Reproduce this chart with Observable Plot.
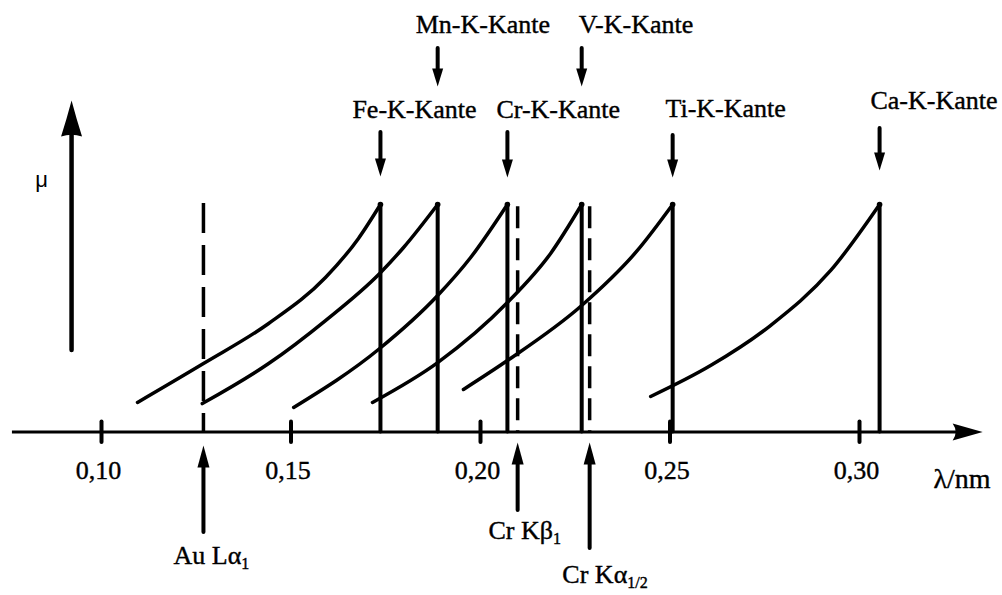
<!DOCTYPE html>
<html>
<head>
<meta charset="utf-8">
<script src="https://cdn.jsdelivr.net/npm/d3@7"></script>
<script src="https://cdn.jsdelivr.net/npm/@observablehq/plot@0.6"></script>
<style>
html, body { margin: 0; padding: 0; background: #fff; }
#chart svg { display: block; }
</style>
</head>
<body>
<div id="chart"></div>
<script>
// ---------------- data ----------------
const edgeNames  = ["Fe", "Mn", "Cr", "V", "Ti", "Ca"];
const edgeLabels = ["Fe-K-Kante", "Mn-K-Kante", "Cr-K-Kante", "V-K-Kante", "Ti-K-Kante", "Ca-K-Kante"];
const edgeLambda = [0.1736, 0.1887, 0.2071, 0.2267, 0.2507, 0.3053];
const edgeMuMax  = [10, 10, 10, 10, 10, 10];

// absorption curves below each edge (λ in nm, μ in arbitrary units)
const feLambda = [0.1095, 0.1269, 0.1441, 0.1591, 0.1678, 0.1736];
const feMu     = [1.30, 3.01, 4.77, 6.79, 8.51, 10.0];
const mnLambda = [0.1266, 0.1441, 0.1591, 0.1734, 0.1797, 0.1887];
const mnMu     = [1.25, 3.01, 4.90, 6.97, 8.11, 10.0];
const crLambda = [0.1507, 0.1734, 0.1887, 0.1974, 0.2071];
const crMu     = [1.08, 3.67, 6.00, 7.67, 10.0];
const vLambda  = [0.1715, 0.1887, 0.2071, 0.2185, 0.2267];
const vMu      = [1.30, 3.05, 5.69, 7.85, 10.0];
const tiLambda = [0.1955, 0.2071, 0.2267, 0.2414, 0.2507];
const tiMu     = [1.87, 3.14, 5.56, 7.98, 10.0];
const caLambda = [0.2449, 0.2607, 0.2765, 0.2924, 0.3053];
const caMu     = [1.56, 2.92, 4.68, 7.10, 10.0];

// emission lines (dashed)
const emissionLabels = ["Au Lα1", "Cr Kβ1", "Cr Kα1/2"];
const emissionLambda = [0.1269, 0.2098, 0.2288];
const emissionMuTop  = [10.04, 9.9, 9.9];

// axis ticks
const tickValues = [0.10, 0.15, 0.20, 0.25, 0.30];
const tickLabels = ["0,10", "0,15", "0,20", "0,25", "0,30"];
const xAxisLabel = "λ/nm";
const yAxisLabel = "μ";

// ---------------- layout (annotation placement, in data units) ----------------
const edgeLabelLeft = [0.1662, 0.1829, 0.2042, 0.2259, 0.2488, 0.3029];
const edgeLabelMu   = [14.19, 17.9, 14.19, 17.9, 14.2, 14.58];
const edgeArrowTop  = [13.16, 16.86, 13.16, 16.86, 13.03, 13.34];
const edgeArrowTip  = [11.23, 15.19, 11.19, 15.19, 11.19, 11.49];

const emArrowTip    = [-0.59, -0.46, -0.46];
const emArrowBottom = [-4.42, -3.45, -5.12];
const emLabelLeft   = [0.1190, 0.2021, 0.2216];
const emLabelMu     = [-5.42, -4.32, -6.29];

const axisStart = 0.0765, axisEnd = 0.3325;
const yArrowLambda = 0.0921, yArrowBottom = 3.58, yArrowTip = 14.57;

// ---------------- build rows ----------------
const curveSets = [[feLambda, feMu], [mnLambda, mnMu], [crLambda, crMu], [vLambda, vMu], [tiLambda, tiMu], [caLambda, caMu]];
const curveRows = curveSets.flatMap(([ls, ms], k) => ls.map((l, i) => ({el: edgeNames[k], lambda: l, mu: ms[i]})));
const edgeRows = edgeNames.map((n, i) => ({
  name: n, label: edgeLabels[i], lambda: edgeLambda[i], muMax: edgeMuMax[i],
  labelX: edgeLabelLeft[i], labelY: edgeLabelMu[i], aTop: edgeArrowTop[i], aTip: edgeArrowTip[i]
}));
const emRows = emissionLabels.map((n, i) => ({
  label: n, lambda: emissionLambda[i], top: emissionMuTop[i],
  tip: emArrowTip[i], bottom: emArrowBottom[i], labelX: emLabelLeft[i], labelY: emLabelMu[i]
}));

// arrow head symbols (tip at origin)
const headDown = (w, l) => ({draw(ctx) { ctx.moveTo(0, 0); ctx.lineTo(-w / 2, -l); ctx.lineTo(w / 2, -l); ctx.closePath(); }});
const headUp = (w, l) => ({draw(ctx) { ctx.moveTo(0, 0); ctx.lineTo(-w / 2, l); ctx.lineTo(w / 2, l); ctx.closePath(); }});
const headRight = (w, l) => ({draw(ctx) { ctx.moveTo(0, 0); ctx.lineTo(-l, -w / 2); ctx.quadraticCurveTo(-l * 0.8, 0, -l, w / 2); ctx.closePath(); }});
const headBullet = (w, l) => ({draw(ctx) {
  ctx.moveTo(0, 0);
  ctx.quadraticCurveTo(-w * 0.25, l * 0.55, -w / 2, l);
  ctx.quadraticCurveTo(0, l * 0.9, w / 2, l);
  ctx.quadraticCurveTo(w * 0.25, l * 0.55, 0, 0);
  ctx.closePath();
}});

const serif = "Liberation Serif, Times New Roman, serif";
const textInk = {fill: "black", stroke: "black", strokeWidth: 0.4};

const plot = Plot.plot({
  width: 1002,
  height: 595,
  margin: 0,
  style: {background: "#fff"},
  x: {domain: [0.10, 0.30], range: [101, 859], axis: null},
  y: {domain: [0, 10], range: [431.5, 204], axis: null},
  marks: [
    // x axis line + arrow head
    Plot.ruleY([0], {x1: axisStart, x2: axisEnd, stroke: "black", strokeWidth: 3, insetRight: 10}),
    Plot.dot([0], {x: axisEnd, y: 0, symbol: headRight(17, 30), r: 3, fill: "black", stroke: "none"}),
    // ticks
    Plot.ruleX(tickValues, {y1: 0.44, y2: -0.46, stroke: "black", strokeWidth: 4, strokeLinecap: "round"}),
    Plot.text(tickValues, {x: d => d, y: -1.68, dx: -3, text: (d, i) => tickLabels[i], fontFamily: serif, fontSize: 26, textAnchor: "middle", ...textInk}),
    Plot.text([xAxisLabel], {x: 0.3195, y: -2.07, text: d => d, fontFamily: serif, fontSize: 28, textAnchor: "start", ...textInk}),
    // y arrow
    Plot.ruleX([yArrowLambda], {y1: yArrowTip, y2: yArrowBottom, stroke: "black", strokeWidth: 4.5, strokeLinecap: "round", insetTop: 20}),
    Plot.dot([0], {x: yArrowLambda, y: yArrowTip, symbol: headBullet(21, 36), r: 3, fill: "black", stroke: "none"}),
    Plot.text([yAxisLabel], {x: 0.0842, y: 11.1, text: d => d, fontFamily: "Liberation Sans, Arial, sans-serif", fontSize: 22, textAnchor: "middle", fill: "black"}),
    // emission lines (dashed)
    Plot.ruleX(emRows.slice(0, 1), {x: "lambda", y1: "top", y2: 0, stroke: "black", strokeWidth: 3.5, strokeDasharray: "30,12"}),
    Plot.ruleX(emRows.slice(1), {x: "lambda", y1: "top", y2: 0, stroke: "black", strokeWidth: 3.5, strokeDasharray: "22,10"}),
    // absorption curves
    Plot.line(curveRows, {x: "lambda", y: "mu", z: "el", curve: "monotone-x", stroke: "black", strokeWidth: 3.5, strokeLinecap: "round", strokeLinejoin: "round"}),
    // absorption edges
    Plot.ruleX(edgeRows, {x: "lambda", y1: "muMax", y2: 0, stroke: "black", strokeWidth: 4, strokeLinecap: "round"}),
    Plot.dot(edgeRows, {x: "lambda", y: "muMax", r: 2.8, fill: "black", stroke: "none"}),
    // edge labels + down arrows
    Plot.ruleX(edgeRows, {x: "lambda", y1: "aTop", y2: "aTip", stroke: "black", strokeWidth: 4, strokeLinecap: "round", insetBottom: 10}),
    Plot.dot(edgeRows, {x: "lambda", y: "aTip", symbol: headDown(11, 18), r: 3, fill: "black", stroke: "none"}),
    Plot.text(edgeRows, {x: "labelX", y: "labelY", text: "label", fontFamily: serif, fontSize: 26, textAnchor: "start", ...textInk}),
    // emission labels + up arrows
    Plot.ruleX(emRows, {x: "lambda", y1: "tip", y2: "bottom", stroke: "black", strokeWidth: 4, strokeLinecap: "round", insetTop: 12}),
    Plot.dot(emRows, {x: "lambda", y: "tip", symbol: headUp(12, 22), r: 3, fill: "black", stroke: "none"}),
    Plot.text(emRows, {x: "labelX", y: "labelY", text: "label", fontFamily: serif, fontSize: 26, textAnchor: "start", ...textInk})
  ]
});

// subscripts for emission line labels
const subs = {"Au Lα1": ["Au Lα", "1"], "Cr Kβ1": ["Cr Kβ", "1"], "Cr Kα1/2": ["Cr Kα", "1/2"]};
plot.querySelectorAll("text").forEach(t => {
  const s = subs[t.textContent];
  if (!s) return;
  t.textContent = s[0];
  const ts = document.createElementNS("http://www.w3.org/2000/svg", "tspan");
  ts.setAttribute("dy", "5");
  ts.setAttribute("font-size", "16");
  ts.textContent = s[1];
  t.appendChild(ts);
});

document.getElementById("chart").appendChild(plot);
</script>
</body>
</html>
